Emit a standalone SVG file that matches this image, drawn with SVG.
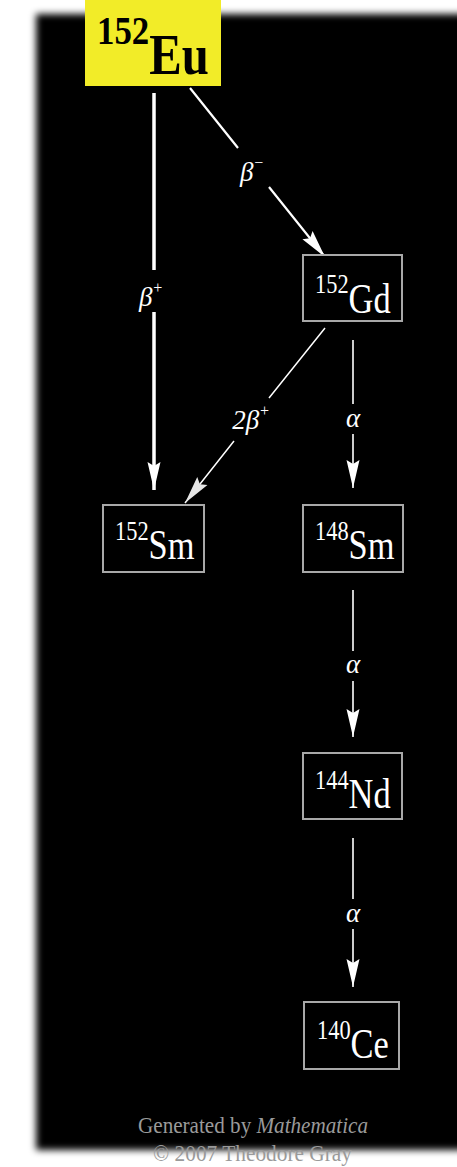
<svg xmlns="http://www.w3.org/2000/svg" width="457" height="1167" viewBox="0 0 457 1167">
  <defs>
    <filter id="soft" x="-5%" y="-5%" width="110%" height="110%">
      <feGaussianBlur stdDeviation="3.5"/>
    </filter>
    <marker id="ah" markerUnits="userSpaceOnUse" markerWidth="30" markerHeight="16" viewBox="-29 -8 30 16" refX="0" refY="0" orient="auto">
      <path d="M0,0 L-28,-6.5 L-24,0 L-28,6.5 Z" fill="#ffffff"/>
    </marker>
    <marker id="ahg" markerUnits="userSpaceOnUse" markerWidth="30" markerHeight="16" viewBox="-29 -8 30 16" refX="0" refY="0" orient="auto">
      <path d="M0,0 L-28,-6.5 L-24,0 L-28,6.5 Z" fill="#e6e6e6"/>
    </marker>
  </defs>
  <style>
    .box { fill: #000000; stroke: #a8a8a8; stroke-width: 2; }
    .nuc { font-family: "Liberation Serif", "Times New Roman", serif; fill: #ffffff; }
    .mass { font-size: 28px; }
    .elem { font-size: 43px; }
    .lbl { font-family: "Liberation Serif", "Times New Roman", serif; font-style: italic; font-size: 27px; fill: #ffffff; text-anchor: middle; }
    .sup { font-size: 16px; }
    .foot { font-family: "Liberation Serif", "Times New Roman", serif; font-size: 23px; fill: #9a9a9a; }
    .conn { fill: none; stroke: #ffffff; }
  </style>

  <rect x="0" y="0" width="457" height="1167" fill="#ffffff"/>
  <rect x="36" y="14" width="440" height="1136" fill="#000000" filter="url(#soft)"/>

  <g id="connectors">
    <path class="conn" d="M154,93 L154,270 M154,312 L154,490" stroke-width="3.5" marker-end="url(#ah)"/>
    <text class="lbl" x="151" y="306">β<tspan class="sup" dy="-13">+</tspan></text>

    <path class="conn" d="M190,88 L238,148 M269,187 L325,257" stroke-width="2.2" marker-end="url(#ah)"/>
    <text class="lbl" x="252" y="181">β<tspan class="sup" dy="-13">−</tspan></text>

    <path class="conn" d="M325,328 L269,398 M234,441 L185,503" stroke="#d0d0d0" stroke-width="1.5" marker-end="url(#ahg)"/>
    <text class="lbl" x="251" y="429">2β<tspan class="sup" dy="-13">+</tspan></text>

    <path class="conn" d="M353,340 L353,404 M353,434 L353,488" stroke-width="1.6" marker-end="url(#ah)"/>
    <text class="lbl" x="353" y="427">α</text>

    <path class="conn" d="M353,590 L353,651 M353,681 L353,737" stroke-width="1.6" marker-end="url(#ah)"/>
    <text class="lbl" x="353" y="673">α</text>

    <path class="conn" d="M353,838 L353,899 M353,929 L353,987" stroke-width="1.6" marker-end="url(#ah)"/>
    <text class="lbl" x="353" y="922">α</text>
  </g>

  <g id="node-eu152">
    <rect x="85" y="0" width="136" height="86" fill="#f2ec28"/>
    <text transform="translate(97,74) scale(0.87,1)" font-family="Liberation Serif, serif" font-weight="bold" fill="#000000"><tspan font-size="40" dy="-30">152</tspan><tspan font-size="56" dy="30">Eu</tspan></text>
  </g>

  <g id="node-gd152">
    <rect class="box" x="303" y="255" width="99" height="66"/>
    <text class="nuc" transform="translate(315,313) scale(0.8,1)"><tspan class="mass" dy="-20">152</tspan><tspan class="elem" dy="20">Gd</tspan></text>
  </g>

  <g id="node-sm152">
    <rect class="box" x="103" y="505" width="101" height="67"/>
    <text class="nuc" transform="translate(115,559) scale(0.8,1)"><tspan class="mass" dy="-19">152</tspan><tspan class="elem" dy="19">Sm</tspan></text>
  </g>

  <g id="node-sm148">
    <rect class="box" x="303" y="505" width="100" height="67"/>
    <text class="nuc" transform="translate(315,559) scale(0.8,1)"><tspan class="mass" dy="-19">148</tspan><tspan class="elem" dy="19">Sm</tspan></text>
  </g>

  <g id="node-nd144">
    <rect class="box" x="303" y="753" width="99" height="66"/>
    <text class="nuc" transform="translate(315,808) scale(0.8,1)"><tspan class="mass" dy="-19">144</tspan><tspan class="elem" dy="19">Nd</tspan></text>
  </g>

  <g id="node-ce140">
    <rect class="box" x="304" y="1002" width="95" height="67"/>
    <text class="nuc" transform="translate(317,1058) scale(0.8,1)"><tspan class="mass" dy="-19">140</tspan><tspan class="elem" dy="19">Ce</tspan></text>
  </g>

  <g id="footer">
    <text class="foot" x="138" y="1133" textLength="230" lengthAdjust="spacingAndGlyphs">Generated by <tspan font-style="italic">Mathematica</tspan></text>
    <text class="foot" x="153" y="1161" font-size="22" textLength="199" lengthAdjust="spacingAndGlyphs" fill="#b4b4b4">© 2007 Theodore Gray</text>
  </g>
</svg>
